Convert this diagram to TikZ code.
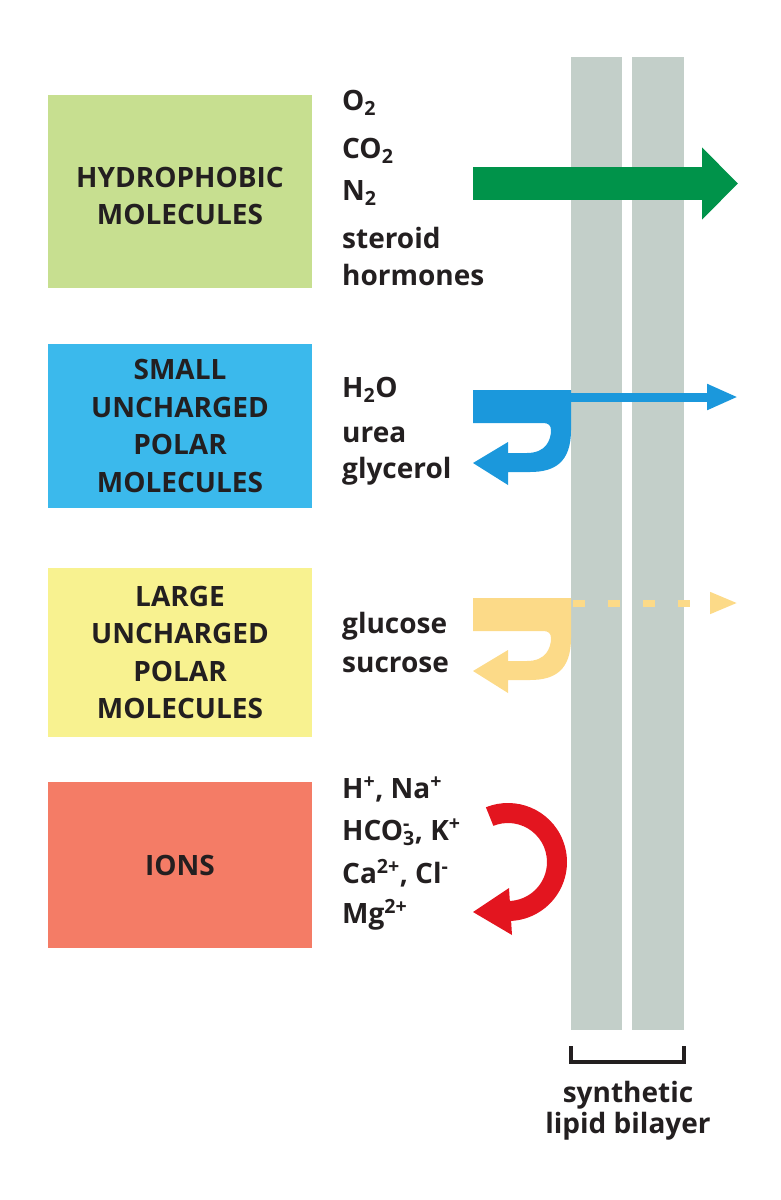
\documentclass[tikz,border=0pt]{standalone}
\usepackage{fontspec}
\setmainfont{Open Sans}
\usepackage{xcolor}
\usepackage{tikz}
\usetikzlibrary{arrows.meta,calc}

\definecolor{hydrogreen}{HTML}{C7DF90}
\definecolor{smallblue}{HTML}{3BB9EC}
\definecolor{largeyellow}{HTML}{F8F290}
\definecolor{ionsalmon}{HTML}{F47C66}
\definecolor{lipidgray}{HTML}{C3CFC9}
\definecolor{passgreen}{HTML}{00934A}
\definecolor{permblue}{HTML}{1B98DC}
\definecolor{sugaryellow}{HTML}{FCDA88}
\definecolor{ionred}{HTML}{E3151F}
\definecolor{inkblack}{HTML}{231F20}

\begin{document}
\begin{tikzpicture}[x=1pt, y=-1pt, >=Stealth, text=inkblack,
  catbox/.style={minimum width=264pt, inner sep=0pt, align=center, font=\bfseries\fontsize{28}{37.5}\selectfont},
  mol/.style={anchor=base west, inner sep=0pt, font=\bfseries\fontsize{28}{34}\selectfont},
  leaflet/.style={fill=lipidgray, inner sep=0pt, minimum height=973pt}]
  \useasboundingbox (0,0) rectangle (780,1200);

  % Category boxes
  \node[catbox, fill=hydrogreen, minimum height=193pt] (hydro) at (180,191.5) {};
  \node[catbox] (hydro-label) at (180,196) {HYDROPHOBIC\\MOLECULES};
  \node[catbox, fill=smallblue, minimum height=164pt] (smallpol) at (180,426) {SMALL\\UNCHARGED\\POLAR\\MOLECULES};
  \node[catbox, fill=largeyellow, minimum height=169pt] (largepol) at (180,652.5) {LARGE\\UNCHARGED\\POLAR\\MOLECULES};
  \node[catbox, fill=ionsalmon, minimum height=166pt] (ions) at (180,865) {IONS};

  % Example molecules (baselines)
  \foreach \y/\txt [count=\i] in {110/{O\textsubscript{2}}, 158/{CO\textsubscript{2}}, 200/{N\textsubscript{2}}, 248/steroid, 285/hormones,
      397/{H\textsubscript{2}O}, 442/urea, 478/glycerol,
      633/glucose, 672/sucrose,
      798/{H\textsuperscript{+}, Na\textsuperscript{+}},
      840/{HCO\rlap{\textsuperscript{-}}\textsubscript{3}, K\textsuperscript{+}},
      883/{Ca\textsuperscript{2+}, Cl\textsuperscript{-}},
      923/{Mg\textsuperscript{2+}}} {
    \node[mol] (mol-\i) at (342,\y) {\txt};
  }

  % Synthetic lipid bilayer
  \node[leaflet, minimum width=51pt] (leafL) at (596.5,543.5) {};
  \node[leaflet, minimum width=52pt] (leafR) at (658,543.5) {};
  \draw[line width=3.5pt, inkblack] ($(leafL.south west)+(0,16)$) -- ++(0,16)
    -- ($(leafR.south east)+(0,32)$) -- ++(0,-16);
  \node[anchor=north, inner sep=0pt, align=center, font=\bfseries\fontsize{28}{31}\selectfont] (bilayer)
    at (628,1081) {synthetic\\lipid bilayer};

  % Hydrophobic: passes straight through
  \coordinate (hydro-in) at (473,183.5);
  \coordinate (hydro-out) at (738,183.5);
  \draw[passgreen, line width=33pt, -{Triangle[width=70pt,length=36pt]}] (hydro-in) -- (hydro-out);

  % Small uncharged polar: partly through, partly bounced back
  \coordinate (small-in) at (566,397);
  \coordinate (small-out) at (738,397);
  \draw[permblue, line width=9pt, -{Triangle[width=24pt,length=31pt]}] (small-in) -- (small-out);

  % Large uncharged polar: barely through
  \coordinate (large-in) at (573,603);
  \coordinate (large-out) at (738,603);
  \draw[sugaryellow, line width=7pt, dash pattern=on 12pt off 23pt, -{Triangle[width=20pt,length=28pt]}] (large-in) -- (large-out);

  \foreach \dy/\col in {0/permblue, 208/sugaryellow}
    \fill[\col, shift={(0,\dy)}] (473,390) -- (571,390) -- (571,430)
      .. controls (571,462) and (555,472) .. (530,472) -- (508,472) -- (508,485)
      -- (473,463) -- (508,442) -- (508,453) -- (527,453)
      .. controls (546,453) and (551,440) .. (551,430)
      .. controls (551,425) and (548,423) .. (543,423) -- (473,423) -- cycle;

  % Ions: turned back
  \fill[ionred] (508,862) ++(-112:59) arc[start angle=-112, end angle=90, radius=59]
    -- ++(0,-20) arc[start angle=90, end angle=-112, radius=39] -- cycle;
  \fill[ionred] (509,888) -- (473,912) -- (512,935) -- cycle;
\end{tikzpicture}
\end{document}
